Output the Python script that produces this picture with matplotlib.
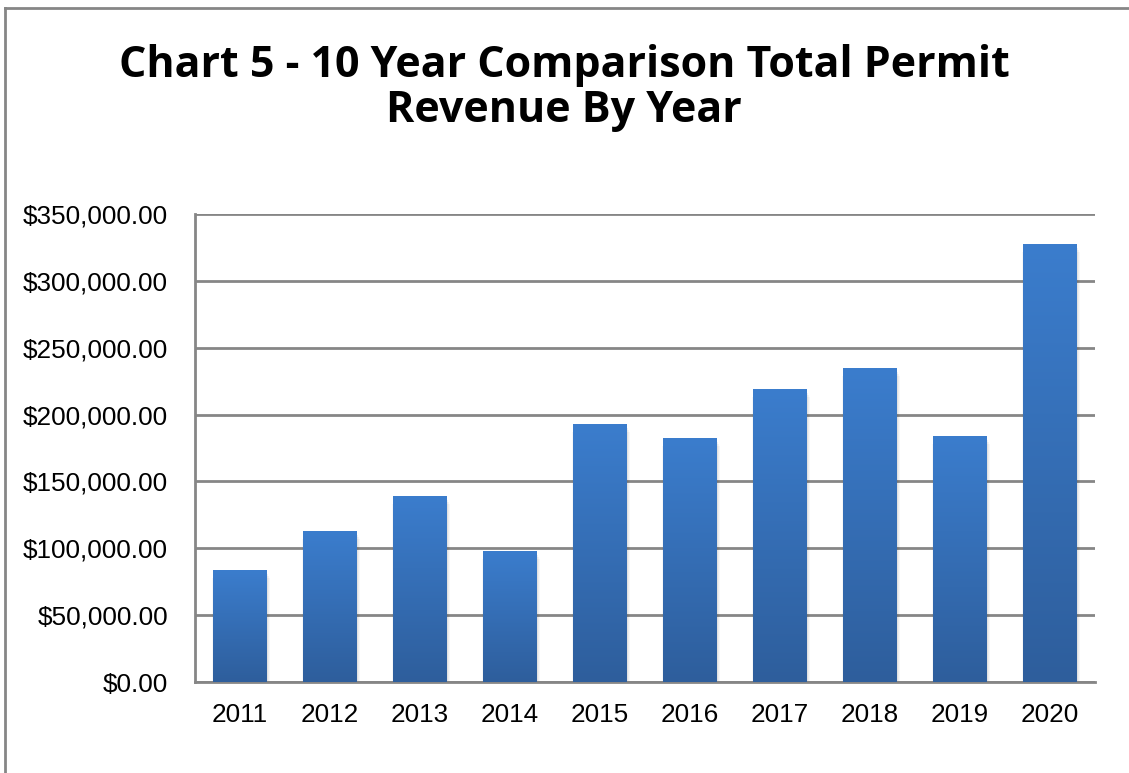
import numpy as np
import matplotlib
matplotlib.use("Agg")
import matplotlib.pyplot as plt
from matplotlib.colors import LinearSegmentedColormap
from matplotlib.lines import Line2D
from matplotlib.patches import Rectangle
from matplotlib.ticker import FuncFormatter

# Data

years   = ["2011", "2012", "2013", "2014", "2015", "2016", "2017", "2018", "2019", "2020"]
revenue = [83700, 112900, 139000, 97900, 192800, 182400, 219000, 234700, 183900, 327400]

TITLE = "Chart 5 - 10 Year Comparison Total Permit\nRevenue By Year"

BAR_TOP    = "#3b7dcd"
BAR_BOTTOM = "#2e5e9c"
GRID_COLOR = "#868686"

# Figure

fig = plt.figure(figsize=(11.29, 7.73), dpi=100)
ax = fig.add_axes([0.1727, 0.1177, 0.7972, 0.6055])

x = np.arange(len(years))
bars = ax.bar(x, revenue, width=0.59, color="none", edgecolor="none", zorder=3)

# soft drop shadow around each bar
for b in bars:
    for k, a in zip(range(1, 5), [0.07, 0.05, 0.04, 0.03]):
        off = 0.010 * k
        ax.add_patch(Rectangle((b.get_x() - off * 0.3, -1500 * k), b.get_width() + off * 1.3, b.get_height(),
                               facecolor="#000000", alpha=a, edgecolor="none", zorder=2))

# vertical gradient fill for each bar
cmap = LinearSegmentedColormap.from_list("bar", [BAR_BOTTOM, BAR_TOP])
grad = np.linspace(0, 1, 256).reshape(-1, 1)
for b in bars:
    x0, w, h = b.get_x(), b.get_width(), b.get_height()
    im = ax.imshow(grad, cmap=cmap, origin="lower", aspect="auto",
                   extent=(x0, x0 + w, 0, h), zorder=3)
    im.set_clip_path(b)

ax.set_xlim(-0.5, len(years) - 0.5)
ax.set_ylim(0, 350000)
ax.set_yticks(np.arange(0, 350001, 50000))
ax.yaxis.set_major_formatter(FuncFormatter(lambda v, p: f"${v:,.2f}"))
ax.set_xticks(x)
ax.set_xticklabels(years)

ax.grid(axis="y", color=GRID_COLOR, linewidth=2, zorder=1)
ax.set_axisbelow(True)
for side in ["top", "right"]:
    ax.spines[side].set_visible(False)
ax.spines["left"].set_color(GRID_COLOR)
ax.spines["left"].set_linewidth(2)
ax.spines["bottom"].set_color(GRID_COLOR)
ax.spines["bottom"].set_linewidth(2)
ax.tick_params(length=0, labelsize=18.8)
ax.tick_params(axis="y", pad=19.5)
ax.tick_params(axis="x", pad=15)
for lab in ax.get_xticklabels() + ax.get_yticklabels():
    lab.set_fontfamily("Liberation Sans")

fig.text(0.4996, 0.886, TITLE, ha="center", va="center", fontsize=31,
         fontweight="bold", family="Open Sans", linespacing=1.08)

# outer chart border (left and top visible)
fig.add_artist(Line2D([5 / 1129, 5 / 1129], [0, 1 - 8 / 773], color=GRID_COLOR, linewidth=2))
fig.add_artist(Line2D([5 / 1129, 1], [1 - 8 / 773, 1 - 8 / 773], color=GRID_COLOR, linewidth=2))

fig.savefig("out.png", dpi=100)
